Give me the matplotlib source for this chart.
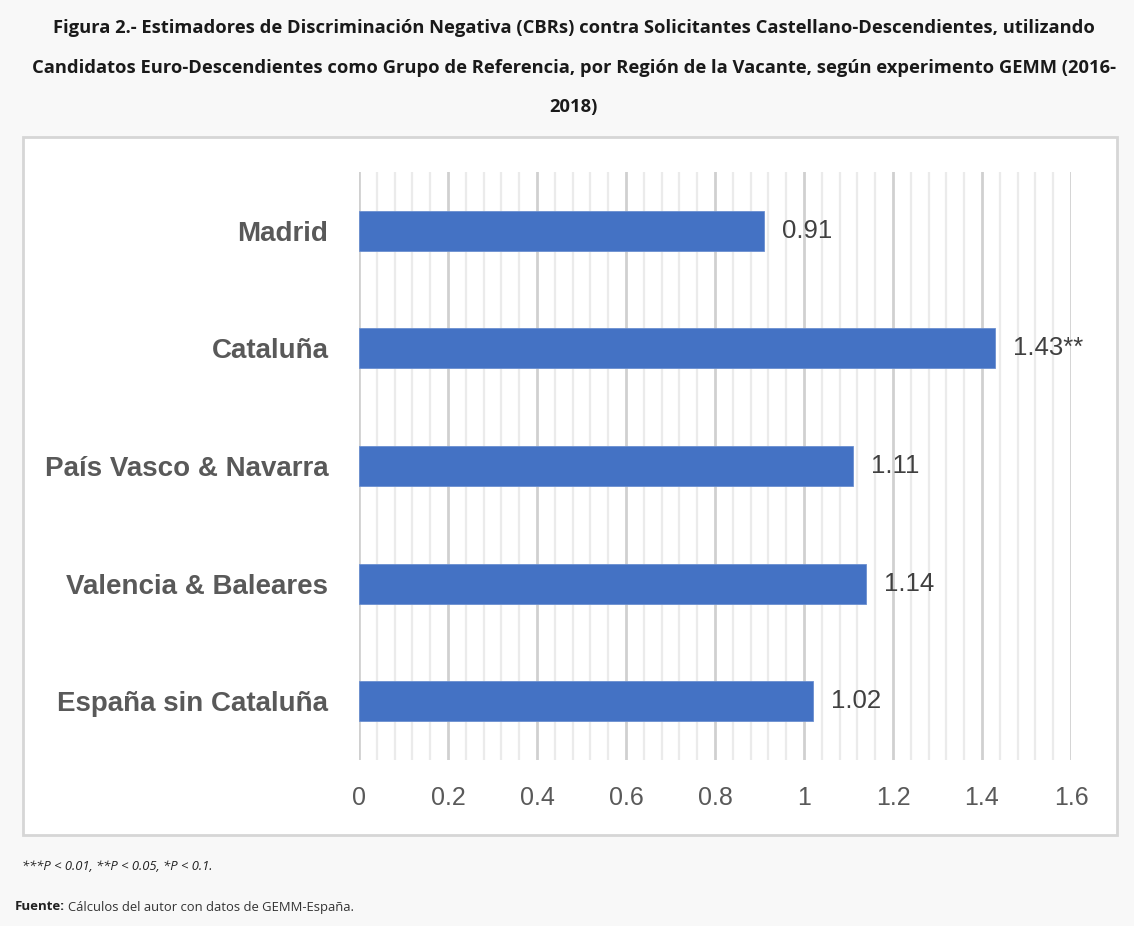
import matplotlib
matplotlib.use("Agg")
import matplotlib.pyplot as plt
from matplotlib.patches import Rectangle
from matplotlib.ticker import MultipleLocator
import numpy as np

categories = ["Madrid", "Cataluña", "País Vasco & Navarra", "Valencia & Baleares", "España sin Cataluña"]
values = [0.91, 1.43, 1.11, 1.14, 1.02]
value_labels = ["0.91", "1.43**", "1.11", "1.14", "1.02"]
xticks = [0, 0.2, 0.4, 0.6, 0.8, 1.0, 1.2, 1.4, 1.6]
xtick_labels = ["0", "0.2", "0.4", "0.6", "0.8", "1", "1.2", "1.4", "1.6"]

title = ("Figura 2.- Estimadores de Discriminación Negativa (CBRs) contra Solicitantes Castellano-Descendientes, utilizando\n"
         "Candidatos Euro-Descendientes como Grupo de Referencia, por Región de la Vacante, según experimento GEMM (2016-\n"
         "2018)")

W, H = 1134, 926
fig = plt.figure(figsize=(W/100, H/100), dpi=100)
fig.patch.set_facecolor("#f8f8f8")

# white chart box
box = Rectangle((23/W, 1-835/H), (1117-23)/W, (835-137)/H, transform=fig.transFigure,
                facecolor="white", edgecolor="#d6d6d6", linewidth=2, zorder=-5)
fig.patches.append(box)

ax = fig.add_axes([359/W, 1-760/H, (1071-359)/W, (760-172)/H])
ax.set_zorder(2)
ax.set_facecolor("none")
y = np.arange(len(categories))
ax.barh(y, values, height=0.34, color="#4472C4", edgecolor="#6b8fd0", linewidth=0.6, zorder=3)
ax.set_ylim(len(categories)-0.5, -0.5)
ax.set_xlim(0, 1.6)
ax.set_xticks(xticks)
ax.set_xticklabels(xtick_labels)
ax.xaxis.set_minor_locator(MultipleLocator(0.04))
ax.grid(axis="x", which="major", color="#d0d0d0", linewidth=2, zorder=0)
ax.grid(axis="x", which="minor", color="#ebebeb", linewidth=1.6, zorder=0)
ax.set_axisbelow(True)
for s in ax.spines.values():
    s.set_visible(False)
ax.tick_params(axis="x", which="both", length=0, pad=19, labelsize=18, labelcolor="#595959")
ax.tick_params(axis="y", length=0, pad=22)
ax.set_yticks(y)
ax.set_yticklabels(categories, fontsize=20, fontweight="bold", color="#595959",
                   family="Liberation Sans")
for lab in ax.get_xticklabels():
    lab.set_family("Liberation Sans")

for yi, v, lab in zip(y, values, value_labels):
    ax.annotate(lab, (v, yi), xytext=(18, 0), textcoords="offset pixels",
                va="center", ha="left", fontsize=18.5, color="#404040", family="Liberation Sans")

fig.text(0.506, 1-19/H, title, ha="center", va="top", fontsize=13.2, fontweight="bold",
         family="Open Sans", color="#1a1a1a", linespacing=2.55)
fig.text(22/W, 1-867/H, "***P < 0.01, **P < 0.05, *P < 0.1.", fontsize=9.4, style="italic",
         family="Open Sans", color="#222222", va="center")
t = fig.text(15/W, 1-907/H, "Fuente:", fontsize=9.5, fontweight="bold",
             family="Open Sans", color="#222222", va="center")
fig.canvas.draw()
bb = t.get_window_extent()
fig.text((bb.x1 + 3)/W, 1-907/H, "Cálculos del autor con datos de GEMM-España.", fontsize=9.4,
         family="Open Sans", color="#333333", va="center")

fig.savefig("out.png", dpi=100, facecolor=fig.get_facecolor())
